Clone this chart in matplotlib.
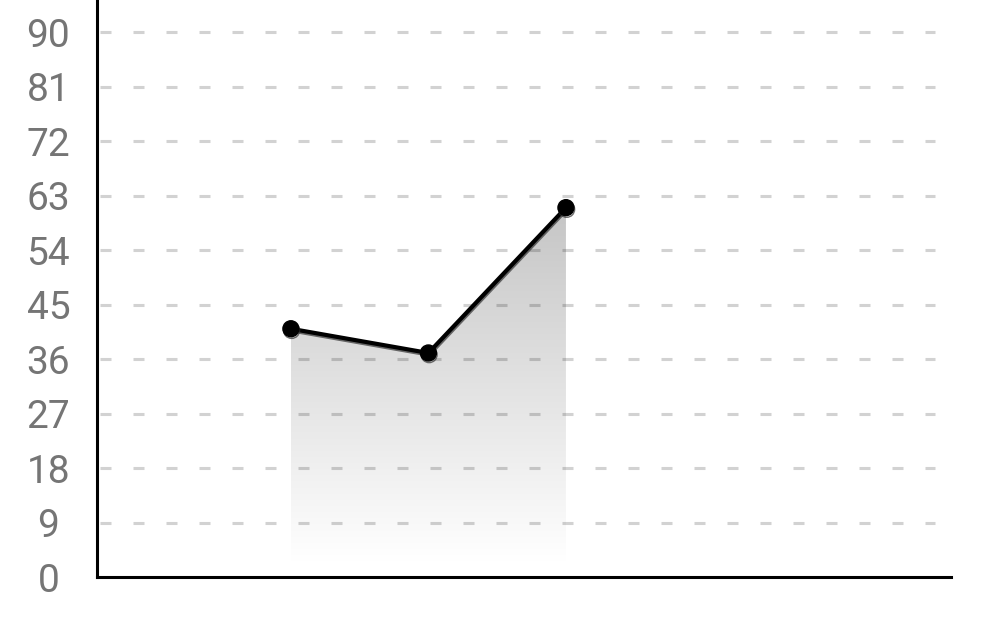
import numpy as np
import matplotlib.pyplot as plt
import matplotlib.patheffects as pe

# data
x_vals = [0, 1, 2]
y_vals = [41, 37, 61]
y_ticks = [0, 9, 18, 27, 36, 45, 54, 63, 72, 81, 90]

plt.rcParams['font.family'] = ['Roboto', 'DejaVu Sans']

fig = plt.figure(figsize=(9.92, 6.41), dpi=100)
ax = fig.add_axes([97 / 992, 64 / 641, 854 / 992, 577 / 641])

ax.set_xlim(-1.41, 4.80)
ax.set_ylim(0, 95.3)

# dashed grid
for t in y_ticks[1:]:
    ax.axhline(t, xmin=0.003, xmax=0.981, color='#d2d2d2', lw=2.2,
               dashes=(3.6, 7.2), zorder=1)

# gradient fill under the line
fill = ax.fill_between(x_vals, y_vals, 1.5, color='none', lw=0)
grad = np.linspace(0, 1, 256).reshape(-1, 1)
rgba = np.zeros((256, 1, 4))
rgba[..., 3] = grad * 0.23
img = ax.imshow(rgba, extent=[x_vals[0], x_vals[-1], 1.5, max(y_vals)],
                origin='lower', aspect='auto', zorder=2, interpolation='bilinear')
img.set_clip_path(fill.get_paths()[0], transform=ax.transData)

ax.plot(x_vals, y_vals, color='black', lw=3, zorder=3,
        marker='o', markersize=11.5,
        path_effects=[pe.SimpleLineShadow(offset=(0.5, -1.2), shadow_color='#333333', alpha=0.7),
                      pe.Normal()])

ax.set_yticks(y_ticks)
ax.set_xticks([])
ax.tick_params(axis='y', length=0, pad=35, labelsize=28, labelcolor='#757575')
for lab in ax.get_yticklabels():
    lab.set_horizontalalignment('center')
for s in ['top', 'right']:
    ax.spines[s].set_visible(False)
for s in ['left', 'bottom']:
    ax.spines[s].set_linewidth(2.2)
    ax.spines[s].set_color('black')

fig.savefig('out.png', dpi=100)
